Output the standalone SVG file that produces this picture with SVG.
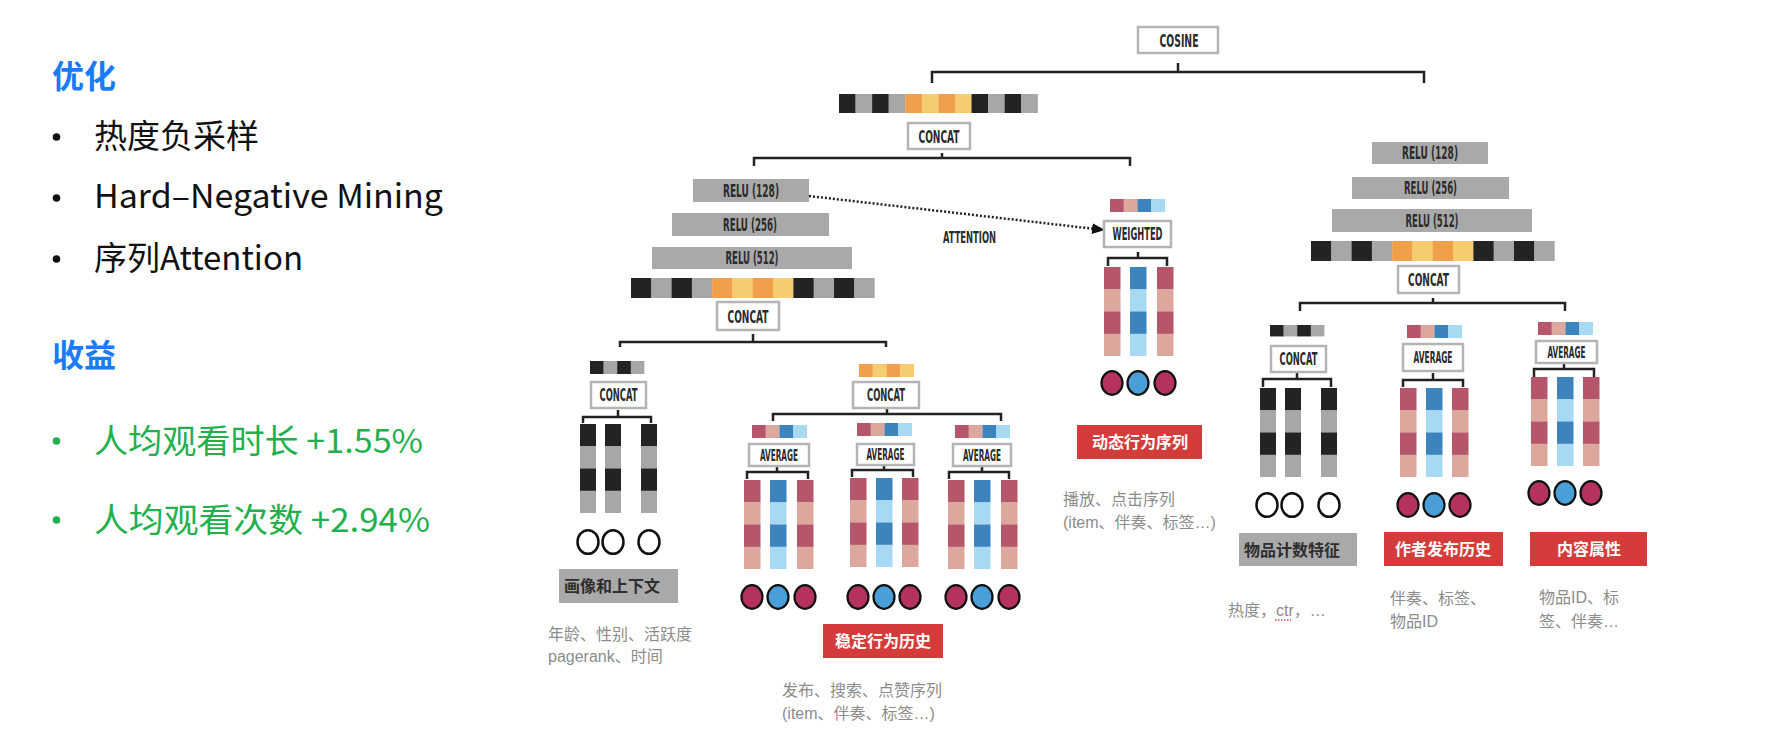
<svg xmlns="http://www.w3.org/2000/svg" width="1775" height="739" viewBox="0 0 1775 739">
<defs>
<style>
.bg{fill:#fff}
.box{fill:#fff;stroke:#b4b4b4;stroke-width:2.5}
.relu{fill:#a9a9a9}
.lbl{font-family:"Liberation Sans Narrow","DejaVu Sans Condensed","Roboto",sans-serif;font-weight:bold;fill:#2b2b2b;font-size:17px;text-anchor:middle}
.sm{font-size:15px}
.ln{fill:none;stroke:#222;stroke-width:2.5}
.dot{fill:none;stroke:#222;stroke-width:2.5;stroke-dasharray:2 2}
.k{fill:#232323}.g{fill:#a7a7a7}.o{fill:#f0a04a}.y{fill:#f5cc6f}
.r{fill:#b5566a}.p{fill:#dca79c}.b{fill:#3d84bf}.lb{fill:#a7d9f3}
.cw{fill:#fff;stroke:#111;stroke-width:2.5}
.cr{fill:#b5315f;stroke:#111;stroke-width:2.2}
.cb{fill:#4a9fd8;stroke:#111;stroke-width:2.2}
.tag{fill:#d43c3c}
.gtag{fill:#a9a9a9}
.tagt{font-family:"Noto Sans CJK SC",sans-serif;font-size:16px;font-weight:bold;fill:#fff}
.gtagt{font-family:"Noto Sans CJK SC",sans-serif;font-size:16px;font-weight:bold;fill:#2e2e2e}
.cap{font-family:"Liberation Sans","Noto Sans CJK SC",sans-serif;font-size:16px;fill:#8c8c8c}
.h{font-family:"Noto Sans CJK SC",sans-serif;font-size:32px;font-weight:bold;fill:#1a7cf5}
.t{font-family:"Noto Sans CJK SC",sans-serif;font-size:33px;fill:#111}
.tg{font-family:"Noto Sans CJK SC",sans-serif;font-size:33px;fill:#22b04d}
.bul{fill:#111}
.bulg{fill:#22b04d}
</style>
<g id="bar12">
<rect x="0" y="0" width="20.5" height="20" class="k"/>
<rect x="20.3" y="0" width="20.5" height="20" class="g"/>
<rect x="40.6" y="0" width="20.5" height="20" class="k"/>
<rect x="60.9" y="0" width="20.5" height="20" class="g"/>
<rect x="81.2" y="0" width="20.5" height="20" class="o"/>
<rect x="101.5" y="0" width="20.5" height="20" class="y"/>
<rect x="121.8" y="0" width="20.5" height="20" class="o"/>
<rect x="142.1" y="0" width="20.5" height="20" class="y"/>
<rect x="162.4" y="0" width="20.5" height="20" class="k"/>
<rect x="182.7" y="0" width="20.5" height="20" class="g"/>
<rect x="203" y="0" width="20.5" height="20" class="k"/>
<rect x="223.3" y="0" width="20.4" height="20" class="g"/>
</g>
<g id="barK">
<rect x="0" y="0" width="13.8" height="13" class="k"/>
<rect x="13.6" y="0" width="13.8" height="13" class="g"/>
<rect x="27.2" y="0" width="13.8" height="13" class="k"/>
<rect x="40.8" y="0" width="13.6" height="13" class="g"/>
</g>
<g id="barO">
<rect x="0" y="0" width="13.9" height="13" class="o"/>
<rect x="13.75" y="0" width="13.9" height="13" class="y"/>
<rect x="27.5" y="0" width="13.9" height="13" class="o"/>
<rect x="41.25" y="0" width="13.75" height="13" class="y"/>
</g>
<g id="barR">
<rect x="0" y="0" width="13.9" height="13" class="r"/>
<rect x="13.75" y="0" width="13.9" height="13" class="p"/>
<rect x="27.5" y="0" width="13.9" height="13" class="b"/>
<rect x="41.25" y="0" width="13.75" height="13" class="lb"/>
</g>
<g id="colK">
<rect x="0" y="0" width="16" height="22.5" class="k"/>
<rect x="0" y="22.25" width="16" height="22.5" class="g"/>
<rect x="0" y="44.5" width="16" height="22.5" class="k"/>
<rect x="0" y="66.75" width="16" height="22.25" class="g"/>
</g>
<g id="colR">
<rect x="0" y="0" width="16.5" height="22.5" class="r"/>
<rect x="0" y="22.25" width="16.5" height="22.5" class="p"/>
<rect x="0" y="44.5" width="16.5" height="22.5" class="r"/>
<rect x="0" y="66.75" width="16.5" height="22.25" class="p"/>
</g>
<g id="colB">
<rect x="0" y="0" width="16.5" height="22.5" class="b"/>
<rect x="0" y="22.25" width="16.5" height="22.5" class="lb"/>
<rect x="0" y="44.5" width="16.5" height="22.5" class="b"/>
<rect x="0" y="66.75" width="16.5" height="22.25" class="lb"/>
</g>
<marker id="arr" markerUnits="userSpaceOnUse" markerWidth="13" markerHeight="11" refX="12" refY="5.5" orient="auto">
<path d="M0,0 L13,5.5 L0,11 z" fill="#111"/>
</marker>
</defs>

<rect class="bg" x="0" y="0" width="1775" height="739"/>

<g id="panel-text">
<text class="h" x="52" y="88">优化</text>
<circle class="bul" cx="56.5" cy="137" r="3.8"/>
<text class="t" x="94" y="148">热度负采样</text>
<circle class="bul" cx="56.5" cy="198" r="3.8"/>
<text class="t" x="94" y="208" textLength="349" lengthAdjust="spacingAndGlyphs">Hard–Negative Mining</text>
<circle class="bul" cx="56.5" cy="259" r="3.8"/>
<text class="t" x="94" y="270" textLength="209" lengthAdjust="spacingAndGlyphs">序列Attention</text>
<text class="h" x="52" y="367">收益</text>
<circle class="bulg" cx="56.5" cy="441" r="3.8"/>
<text class="tg" x="94" y="453" textLength="329" lengthAdjust="spacingAndGlyphs">人均观看时长 +1.55%</text>
<circle class="bulg" cx="56.5" cy="520" r="3.8"/>
<text class="tg" x="94" y="532" textLength="336" lengthAdjust="spacingAndGlyphs">人均观看次数 +2.94%</text>
</g>

<g id="connectors">
<path class="ln" d="M932,83 V72 H1424 V83 M1178,63 V72"/>
<path class="ln" d="M754,166 V158 H1130 V166 M942,153 V158"/>
<path class="ln" d="M620,347 V342 H886 V347 M753,334 V342"/>
<path class="ln" d="M1300,311 V303 H1565 V311 M1433,298 V303"/>
<path class="ln" d="M583,423 V417 H651 V423 M618,410 V417"/>
<path class="ln" d="M773,421 V414 H1001 V421 M887,409 V414"/>
<path class="ln" d="M747,479 V472 H808 V479 M777,467 V472"/>
<path class="ln" d="M852,477 V470 H913 V477 M884,466 V470"/>
<path class="ln" d="M949,479 V472 H1009 V479 M982,467 V472"/>
<path class="ln" d="M1108,266 V258 H1167 V266 M1138,252 V258"/>
<path class="ln" d="M1263,387 V379 H1331 V387 M1297,373 V379"/>
<path class="ln" d="M1403,387 V380 H1463 V387 M1433,373 V380"/>
<path class="ln" d="M1534,377 V369 H1594 V377 M1564,364 V369"/>
<path class="dot" d="M809,196 L1104,230" marker-end="url(#arr)"/>
<text class="lbl" x="969.5" y="243" textLength="53" lengthAdjust="spacingAndGlyphs" style="font-size:16px">ATTENTION</text>
</g>

<g id="cosine">
<rect class="box" x="1138" y="27" width="80" height="26"/>
<text class="lbl" x="1179" y="46.5" textLength="39" lengthAdjust="spacingAndGlyphs">COSINE</text>
</g>

<g id="user-vector">
<use href="#bar12" transform="translate(839,94) scale(0.816,0.95)"/>
<rect class="box" x="908" y="123" width="62" height="26"/>
<text class="lbl" x="939" y="142.5" textLength="41" lengthAdjust="spacingAndGlyphs">CONCAT</text>
</g>

<g id="user-tower">
<rect class="relu" x="693" y="179" width="116" height="23"/>
<text class="lbl" x="751" y="196.5" textLength="56" lengthAdjust="spacingAndGlyphs">RELU  (128)</text>
<rect class="relu" x="672" y="213" width="157" height="23"/>
<text class="lbl" x="750" y="230.5" textLength="54" lengthAdjust="spacingAndGlyphs">RELU (256)</text>
<rect class="relu" x="652" y="247" width="200" height="22"/>
<text class="lbl" x="752" y="264" textLength="53" lengthAdjust="spacingAndGlyphs">RELU (512)</text>
<use href="#bar12" x="631" y="278"/>
<rect class="box" x="717" y="302" width="62" height="28"/>
<text class="lbl" x="748" y="322.5" textLength="41" lengthAdjust="spacingAndGlyphs">CONCAT</text>
</g>

<g id="profile">
<use href="#barK" x="590" y="361"/>
<rect class="box" x="591" y="382" width="55" height="26"/>
<text class="lbl" x="618.5" y="401" textLength="38" lengthAdjust="spacingAndGlyphs">CONCAT</text>
<use href="#colK" x="580" y="424"/>
<use href="#colK" x="605" y="424"/>
<use href="#colK" x="641" y="424"/>
<ellipse class="cw" cx="588" cy="542" rx="10.5" ry="11.8"/>
<ellipse class="cw" cx="613" cy="542" rx="10.5" ry="11.8"/>
<ellipse class="cw" cx="649" cy="542" rx="10.5" ry="11.8"/>
<rect class="gtag" x="559" y="569" width="119" height="34"/>
<text class="gtagt" x="564" y="592">画像和上下文</text>
<text class="cap" x="548" y="640">年龄、性别、活跃度</text>
<text class="cap" x="548" y="662">pagerank、时间</text>
</g>

<g id="stable-history">
<use href="#barO" x="859" y="364"/>
<rect class="box" x="853" y="382" width="66" height="26"/>
<text class="lbl" x="886" y="401" textLength="38" lengthAdjust="spacingAndGlyphs">CONCAT</text>
<rect class="tag" x="823" y="624" width="120" height="34"/>
<text class="tagt" x="835" y="647">稳定行为历史</text>
<text class="cap" x="782" y="696">发布、搜索、点赞序列</text>
<text class="cap" x="782" y="719">(item、伴奏、标签…)</text>
</g>

<g id="avg-a">
<use href="#barR" x="752" y="425"/>
<rect class="box" x="749" y="444" width="60" height="22"/>
<text class="lbl sm" x="779" y="460.5" textLength="38" lengthAdjust="spacingAndGlyphs">AVERAGE</text>
<use href="#colR" x="744" y="480"/>
<use href="#colB" x="770" y="480"/>
<use href="#colR" x="797" y="480"/>
<ellipse class="cr" cx="752" cy="597" rx="10.5" ry="11.8"/>
<ellipse class="cb" cx="778" cy="597" rx="10.5" ry="11.8"/>
<ellipse class="cr" cx="805" cy="597" rx="10.5" ry="11.8"/>
</g>

<g id="avg-b">
<use href="#barR" x="857" y="423"/>
<rect class="box" x="857" y="444" width="57" height="21"/>
<text class="lbl sm" x="885.5" y="460" textLength="38" lengthAdjust="spacingAndGlyphs">AVERAGE</text>
<use href="#colR" x="850" y="478"/>
<use href="#colB" x="876" y="478"/>
<use href="#colR" x="902" y="478"/>
<ellipse class="cr" cx="858" cy="597" rx="10.5" ry="11.8"/>
<ellipse class="cb" cx="884" cy="597" rx="10.5" ry="11.8"/>
<ellipse class="cr" cx="910" cy="597" rx="10.5" ry="11.8"/>
</g>

<g id="avg-c">
<use href="#barR" x="955" y="425"/>
<rect class="box" x="953" y="444" width="58" height="22"/>
<text class="lbl sm" x="982" y="460.5" textLength="38" lengthAdjust="spacingAndGlyphs">AVERAGE</text>
<use href="#colR" x="948" y="480"/>
<use href="#colB" x="974" y="480"/>
<use href="#colR" x="1001" y="480"/>
<ellipse class="cr" cx="956" cy="597" rx="10.5" ry="11.8"/>
<ellipse class="cb" cx="982" cy="597" rx="10.5" ry="11.8"/>
<ellipse class="cr" cx="1009" cy="597" rx="10.5" ry="11.8"/>
</g>

<g id="dynamic-sequence">
<use href="#barR" x="1110" y="199"/>
<rect class="box" x="1104" y="221" width="67" height="26"/>
<text class="lbl" x="1137.5" y="240" textLength="50" lengthAdjust="spacingAndGlyphs">WEIGHTED</text>
<use href="#colR" x="1104" y="267"/>
<use href="#colB" x="1130" y="267"/>
<use href="#colR" x="1157" y="267"/>
<ellipse class="cr" cx="1112" cy="383" rx="10.5" ry="11.8"/>
<ellipse class="cb" cx="1138" cy="383" rx="10.5" ry="11.8"/>
<ellipse class="cr" cx="1165" cy="383" rx="10.5" ry="11.8"/>
<rect class="tag" x="1077" y="425" width="125" height="34"/>
<text class="tagt" x="1092" y="448">动态行为序列</text>
<text class="cap" x="1063" y="505">播放、点击序列</text>
<text class="cap" x="1063" y="528">(item、伴奏、标签…)</text>
</g>

<g id="item-tower">
<rect class="relu" x="1372" y="142" width="116" height="22"/>
<text class="lbl" x="1430" y="159" textLength="56" lengthAdjust="spacingAndGlyphs">RELU  (128)</text>
<rect class="relu" x="1352" y="177" width="157" height="22"/>
<text class="lbl" x="1430.5" y="194" textLength="53" lengthAdjust="spacingAndGlyphs">RELU (256)</text>
<rect class="relu" x="1332" y="209" width="200" height="23"/>
<text class="lbl" x="1432" y="226.5" textLength="53" lengthAdjust="spacingAndGlyphs">RELU (512)</text>
<use href="#bar12" x="1311" y="241"/>
<rect class="box" x="1398" y="266" width="61" height="27"/>
<text class="lbl" x="1428.5" y="285.5" textLength="41" lengthAdjust="spacingAndGlyphs">CONCAT</text>
</g>

<g id="item-count">
<use href="#barK" transform="translate(1270,325) scale(1,0.88)"/>
<rect class="box" x="1271" y="346" width="55" height="26"/>
<text class="lbl" x="1298.5" y="365" textLength="38" lengthAdjust="spacingAndGlyphs">CONCAT</text>
<use href="#colK" x="1260" y="388"/>
<use href="#colK" x="1285" y="388"/>
<use href="#colK" x="1321" y="388"/>
<ellipse class="cw" cx="1267" cy="505" rx="10.5" ry="11.8"/>
<ellipse class="cw" cx="1292" cy="505" rx="10.5" ry="11.8"/>
<ellipse class="cw" cx="1329" cy="505" rx="10.5" ry="11.8"/>
<rect class="gtag" x="1239" y="533" width="118" height="33"/>
<text class="gtagt" x="1244" y="556">物品计数特征</text>
<text class="cap" x="1228" y="616">热度，ctr，…</text>
<path d="M1275,620 H1291" fill="none" stroke="#e04040" stroke-width="1.5" stroke-dasharray="1.5 1.5"/>
</g>

<g id="author-history">
<use href="#barR" x="1407" y="325"/>
<rect class="box" x="1403" y="344" width="60" height="27"/>
<text class="lbl sm" x="1433" y="363" textLength="39" lengthAdjust="spacingAndGlyphs">AVERAGE</text>
<use href="#colR" x="1400" y="388"/>
<use href="#colB" x="1426" y="388"/>
<use href="#colR" x="1452" y="388"/>
<ellipse class="cr" cx="1408" cy="505" rx="10.5" ry="11.8"/>
<ellipse class="cb" cx="1434" cy="505" rx="10.5" ry="11.8"/>
<ellipse class="cr" cx="1460" cy="505" rx="10.5" ry="11.8"/>
<rect class="tag" x="1384" y="532" width="119" height="34"/>
<text class="tagt" x="1395" y="555">作者发布历史</text>
<text class="cap" x="1390" y="604">伴奏、标签、</text>
<text class="cap" x="1390" y="627">物品ID</text>
</g>

<g id="content-attr">
<use href="#barR" x="1538" y="322"/>
<rect class="box" x="1536" y="341" width="61" height="22"/>
<text class="lbl sm" x="1566.5" y="357.5" textLength="38" lengthAdjust="spacingAndGlyphs">AVERAGE</text>
<use href="#colR" x="1531" y="377"/>
<use href="#colB" x="1557" y="377"/>
<use href="#colR" x="1583" y="377"/>
<ellipse class="cr" cx="1539" cy="493" rx="10.5" ry="11.8"/>
<ellipse class="cb" cx="1565" cy="493" rx="10.5" ry="11.8"/>
<ellipse class="cr" cx="1591" cy="493" rx="10.5" ry="11.8"/>
<rect class="tag" x="1530" y="532" width="117" height="34"/>
<text class="tagt" x="1557" y="555">内容属性</text>
<text class="cap" x="1539" y="603">物品ID、标</text>
<text class="cap" x="1539" y="627">签、伴奏…</text>
</g>
</svg>
